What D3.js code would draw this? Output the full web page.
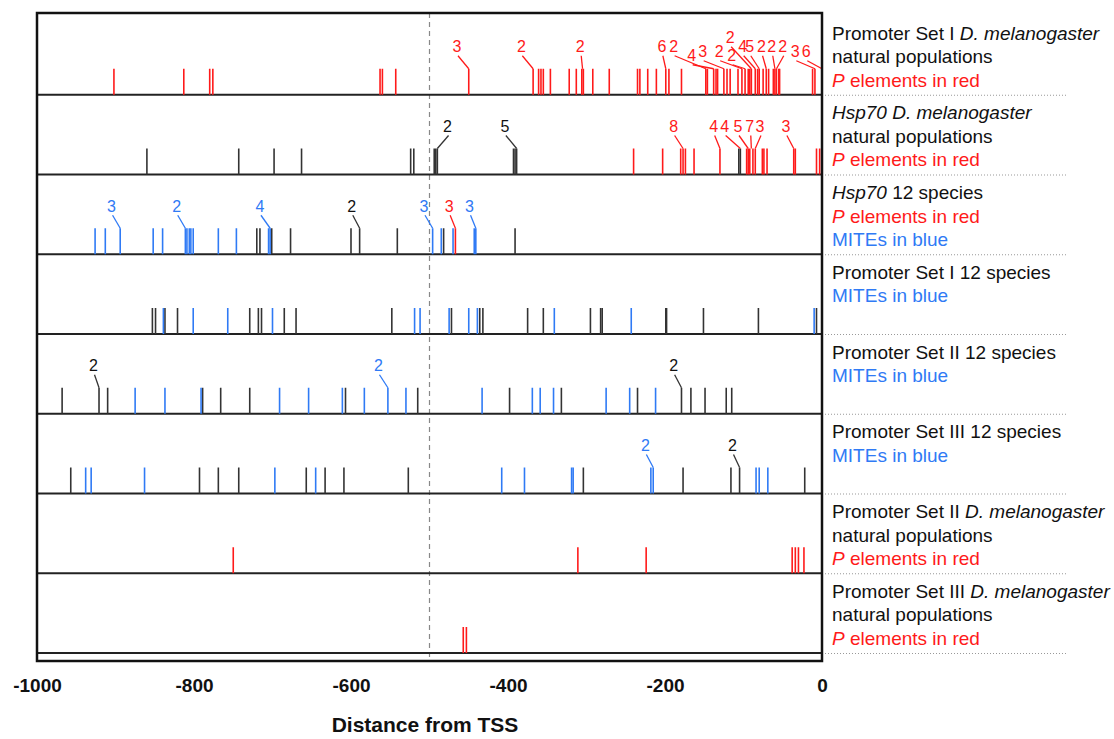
<!DOCTYPE html>
<html>
<head>
<meta charset="utf-8">
<script src="https://cdn.jsdelivr.net/npm/d3@7"></script>
<style>
  body { margin: 0; background: #fff; }
  svg { font-family: "Liberation Sans", Arial, sans-serif; }
</style>
</head>
<body>
<div id="chart"></div>
<script>
// positions (bp from TSS) of each insertion, one list per row
var redTicks = [
    [-902, -813, -780, -776, -563, -560, -543, -450, -368, -361, -358, -355, -346, -322, -313, -306, -304,
     -292, -271, -235, -232, -222, -211, -199, -195, -179, -148, -146, -138, -135, -133, -125, -121, -117,
     -107, -102, -98, -94, -92, -90, -85, -82, -80, -75, -71, -68, -62, -60, -58, -55, -54, -12, -9, 0],
    [-240, -203, -180, -177, -174, -163, -130, -96, -94, -92, -88, -85, -76, -74, -70, -36, -34, -7, -3],
    [-467],
    [],
    [],
    [],
    [-750, -311, -224, -38, -34, -30, -23],
    [-457, -453]
];
var blackTicks = [
    [],
    [-860, -743, -698, -663, -524, -520, -494, -492, -490, -393, -391, -389, -106, -104],
    [-720, -716, -701, -677, -600, -589, -541, -482, -391],
    [-853, -849, -837, -821, -729, -718, -714, -685, -670, -548, -472, -436, -432, -375, -355, -295, -282,
     -280, -199, -198, -151, -81, -7],
    [-968, -921, -910, -789, -766, -729, -607, -515, -398, -332, -235, -179, -167, -149, -122, -115],
    [-957, -793, -769, -743, -657, -633, -609, -527, -304, -177, -116, -105, -22],
    [],
    []
];
var blueTicks = [
    [],
    [],
    [-926, -913, -894, -852, -840, -811, -809, -806, -804, -801, -769, -746, -705, -703, -496, -485, -470,
     -443, -441],
    [-839, -801, -757, -700, -519, -512, -475, -450, -439, -341, -243, -10],
    [-875, -837, -791, -691, -654, -611, -583, -553, -530, -433, -369, -359, -342, -275, -245, -212],
    [-938, -931, -863, -697, -645, -408, -379, -319, -317, -218, -215, -84, -80, -69],
    [],
    []
];

// count labels: [tick position, label position, text, kind, tier]
var countLabels = [
    [[-450, -465, '3', 'red', 0], [-368, -383, '2', 'red', 0], [-305, -308, '2', 'red', 0],
     [-199, -204, '6', 'red', 0], [-148, -189, '2', 'red', 0], [-138, -166, '4', 'red', 2],
     [-125, -152, '3', 'red', 1], [-102, -131, '2', 'red', 1], [-98, -115, '2', 'red', 2],
     [-90, -117, '2', 'red', 3], [-85, -101, '4', 'red', 0], [-80, -92, '5', 'red', 0],
     [-71, -77, '2', 'red', 0], [-60, -64, '2', 'red', 0], [-58, -50, '2', 'red', 0],
     [-9, -34, '3', 'red', 1], [0, -20, '6', 'red', 1]],
    [[-490, -477, '2', 'black', 0], [-389, -404, '5', 'black', 0], [-177, -189, '8', 'red', 0],
     [-130, -138, '4', 'red', 0], [-104, -124, '4', 'red', 0], [-94, -107, '5', 'red', 0],
     [-90, -92, '7', 'red', 0], [-85, -79, '3', 'red', 0], [-36, -46, '3', 'red', 0]],
    [[-894, -905, '3', 'blue', 0], [-811, -822, '2', 'blue', 0], [-703, -716, '4', 'blue', 0],
     [-589, -599, '2', 'black', 0], [-496, -507, '3', 'blue', 0], [-467, -475, '3', 'red', 0],
     [-441, -449, '3', 'blue', 0]],
    [],
    [[-921, -928, '2', 'black', 0], [-553, -565, '2', 'blue', 0], [-179, -189, '2', 'black', 0]],
    [[-215, -225, '2', 'blue', 0], [-105, -114, '2', 'black', 0]],
    [],
    []
];

// row captions, pieces: [text, italic, kind]
var rowCaptions = [
    [[['Promoter Set I ', 0, 'black'], ['D. melanogaster', 1, 'black']],
     [['natural populations', 0, 'black']],
     [['P', 1, 'red'], [' elements in red', 0, 'red']]],
    [[['Hsp70 D. melanogaster', 1, 'black']],
     [['natural populations', 0, 'black']],
     [['P', 1, 'red'], [' elements in red', 0, 'red']]],
    [[['Hsp70', 1, 'black'], [' 12 species', 0, 'black']],
     [['P', 1, 'red'], [' elements in red', 0, 'red']],
     [['MITEs in blue', 0, 'blue']]],
    [[['Promoter Set I 12 species', 0, 'black']],
     [['MITEs in blue', 0, 'blue']]],
    [[['Promoter Set II 12 species', 0, 'black']],
     [['MITEs in blue', 0, 'blue']]],
    [[['Promoter Set III 12 species', 0, 'black']],
     [['MITEs in blue', 0, 'blue']]],
    [[['Promoter Set II ', 0, 'black'], ['D. melanogaster', 1, 'black']],
     [['natural populations', 0, 'black']],
     [['P', 1, 'red'], [' elements in red', 0, 'red']]],
    [[['Promoter Set III ', 0, 'black'], ['D. melanogaster', 1, 'black']],
     [['natural populations', 0, 'black']],
     [['P', 1, 'red'], [' elements in red', 0, 'red']]]
];
var axisTicks = [-1000, -800, -600, -400, -200, 0];
var axisTitle = 'Distance from TSS';

var chart_width = 1114;
var chart_height = 739;
var colors = { red: '#ff1a1a', black: '#333333', blue: '#2f7af5' };
var textColors = { red: '#ff1a1a', black: '#111111', blue: '#2f7af5' };
var tierLift = [48, 43, 39, 57];
var tickLen = 26;

var svg = d3.select('#chart')
    .append('svg')
    .attr('width', chart_width)
    .attr('height', chart_height);

var x_scale = d3.scaleLinear()
    .domain([-1000, 0])
    .range([37, 822]);

var row_scale = d3.scaleBand()
    .domain(d3.range(rowCaptions.length))
    .range([15, 653]);

function baseline(i) {
    return row_scale(i) + row_scale.bandwidth();
}

// dotted separators under captions
svg.selectAll('line.sep')
    .data(d3.range(rowCaptions.length))
    .enter()
    .append('line')
    .attr('x1', 822)
    .attr('x2', 1068)
    .attr('y1', function (d) { return baseline(d) + 0.5; })
    .attr('y2', function (d) { return baseline(d) + 0.5; })
    .attr('stroke', '#999')
    .attr('stroke-width', 1)
    .attr('stroke-dasharray', '1,2');

// dashed line at -500
svg.append('line')
    .attr('x1', x_scale(-500))
    .attr('x2', x_scale(-500))
    .attr('y1', 13)
    .attr('y2', 661)
    .attr('stroke', '#888')
    .attr('stroke-width', 1.2)
    .attr('stroke-dasharray', '5,4');

// row baselines
svg.selectAll('line.base')
    .data(d3.range(rowCaptions.length))
    .enter()
    .append('line')
    .attr('x1', 37)
    .attr('x2', 822)
    .attr('y1', function (d) { return baseline(d); })
    .attr('y2', function (d) { return baseline(d); })
    .attr('stroke', '#222')
    .attr('stroke-width', 2);

// insertion ticks
function drawTicks(lists, kind) {
    lists.forEach(function (list, i) {
        svg.selectAll(null)
            .data(list)
            .enter()
            .append('line')
            .attr('x1', function (d) { return x_scale(d); })
            .attr('x2', function (d) { return x_scale(d); })
            .attr('y1', baseline(i))
            .attr('y2', baseline(i) - tickLen)
            .attr('stroke', colors[kind])
            .attr('stroke-width', 1.6);
    });
}
drawTicks(blackTicks, 'black');
drawTicks(blueTicks, 'blue');
drawTicks(redTicks, 'red');

// count labels with leader lines
countLabels.forEach(function (list, i) {
    var g = svg.append('g');
    g.selectAll('line')
        .data(list)
        .enter()
        .append('line')
        .attr('x1', function (d) { return x_scale(d[1]) + 1; })
        .attr('y1', function (d) { return baseline(i) - tierLift[d[4]] + 9; })
        .attr('x2', function (d) { return x_scale(d[0]); })
        .attr('y2', baseline(i) - tickLen)
        .attr('stroke', function (d) { return colors[d[3]]; })
        .attr('stroke-width', 1.3);
    g.selectAll('text')
        .data(list)
        .enter()
        .append('text')
        .text(function (d) { return d[2]; })
        .attr('x', function (d) { return x_scale(d[1]); })
        .attr('y', function (d) { return baseline(i) - tierLift[d[4]]; })
        .attr('dy', '0.35em')
        .attr('text-anchor', 'middle')
        .attr('font-size', 16)
        .attr('fill', function (d) { return textColors[d[3]]; });
});

// outer frame
svg.append('rect')
    .attr('x', 37)
    .attr('y', 13)
    .attr('width', 785)
    .attr('height', 648)
    .attr('fill', 'none')
    .attr('stroke', '#111')
    .attr('stroke-width', 2.5);

// captions on the right
rowCaptions.forEach(function (lines, i) {
    var top = row_scale(i) + 18;
    lines.forEach(function (pieces, j) {
        var t = svg.append('text')
            .attr('x', 832)
            .attr('y', top + j * 23.5)
            .attr('dy', '0.35em')
            .attr('font-size', 19);
        t.selectAll('tspan')
            .data(pieces)
            .enter()
            .append('tspan')
            .text(function (d) { return d[0]; })
            .attr('font-style', function (d) { return d[1] ? 'italic' : 'normal'; })
            .attr('fill', function (d) { return textColors[d[2]]; });
    });
});

// x axis
var x_axis = d3.axisBottom(x_scale)
    .tickValues(axisTicks)
    .tickFormat(function (d) { return String(d); })
    .tickSize(0)
    .tickPadding(18);

var ax = svg.append('g')
    .attr('transform', 'translate(0,661)')
    .call(x_axis);
ax.select('.domain').remove();
ax.selectAll('text')
    .attr('font-size', 19)
    .attr('font-weight', 'bold')
    .attr('fill', '#111')
    .attr('font-family', '"Liberation Sans", Arial, sans-serif');

svg.append('text')
    .attr('x', 425)
    .attr('y', 725)
    .attr('dy', '0.35em')
    .attr('text-anchor', 'middle')
    .attr('font-size', 21)
    .attr('font-weight', 'bold')
    .attr('fill', '#111')
    .text(axisTitle);
</script>
</body>
</html>
